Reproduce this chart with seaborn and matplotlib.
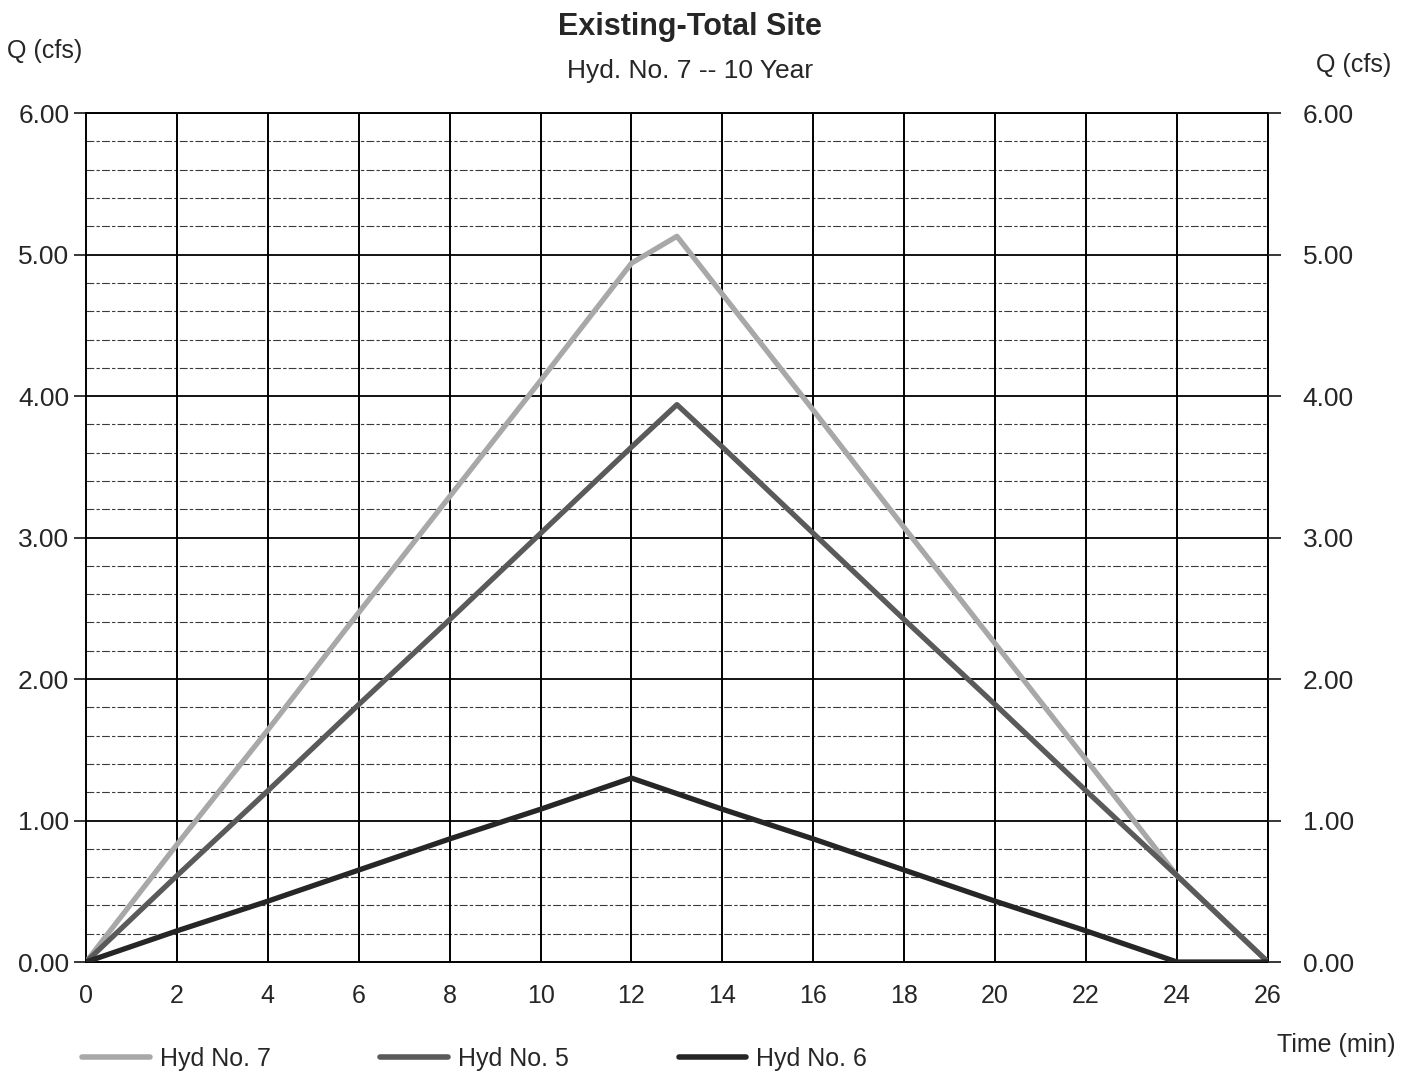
import numpy as np
import matplotlib
matplotlib.use("Agg")
import matplotlib.pyplot as plt
import seaborn as sns
import pandas as pd

# Hydrograph ordinates (time in min, Q in cfs)
time = [0, 2, 4, 6, 8, 10, 12, 13, 14, 16, 18, 20, 22, 24, 26]
hyd7 = [0.00, 0.83, 1.64, 2.47, 3.29, 4.11, 4.94, 5.13, 4.72, 3.90, 3.07, 2.25, 1.43, 0.61, 0.00]
hyd5 = [0.00, 0.61, 1.21, 1.82, 2.42, 3.03, 3.64, 3.94, 3.64, 3.03, 2.42, 1.82, 1.21, 0.61, 0.00]
hyd6 = [0.00, 0.22, 0.43, 0.65, 0.87, 1.08, 1.30, 1.19, 1.08, 0.87, 0.65, 0.43, 0.22, 0.00, 0.00]

series_names = ["Hyd No. 7", "Hyd No. 5", "Hyd No. 6"]
series_colors = ["#a8a8a8", "#5a5a5a", "#262626"]
y_ticks = [0, 1, 2, 3, 4, 5, 6]
x_ticks = list(range(0, 27, 2))

df = pd.DataFrame({
    "time": time * 3,
    "Q": hyd7 + hyd5 + hyd6,
    "series": [series_names[0]] * len(time) + [series_names[1]] * len(time) + [series_names[2]] * len(time),
})

sns.set_style("white")
plt.rcParams["font.family"] = ["Liberation Sans", "DejaVu Sans"]

fig = plt.figure(figsize=(14.14, 10.78), dpi=100)
ax = fig.add_axes([0.0608, 0.1076, 0.8359, 0.7874])

# grid: minor dashed every 0.2, major solid every 1.0, verticals every 2 min
for v in np.arange(0.2, 6.0, 0.2):
    if abs(v - round(v)) > 1e-6:
        ax.axhline(v, color="#3a3a3a", lw=0.8, ls=(0, (7, 2, 3, 2)), zorder=1)
for v in y_ticks[1:]:
    ax.axhline(v, color="black", lw=1.3, zorder=1)
for t in x_ticks[1:]:
    ax.axvline(t, color="black", lw=1.4, zorder=1)

sns.lineplot(data=df, x="time", y="Q", hue="series", palette=series_colors,
             hue_order=series_names, linewidth=3.8, ax=ax, zorder=3, legend=False)

ax.set_xlim(0, 26)
ax.set_ylim(0, 6)
ax.set_xticks(x_ticks)
ax.set_yticks(y_ticks)
ax.set_yticklabels([f"{v:.2f}" for v in y_ticks])
ax.set_xlabel("")
ax.set_ylabel("")
ax.tick_params(axis="y", direction="out", length=9, width=1.3, pad=3, labelsize=19, left=True)
ax.tick_params(axis="x", length=0, pad=16, labelsize=18)
for s in ax.spines.values():
    s.set_color("black")
    s.set_linewidth(1.4)

ax2 = ax.twinx()
ax2.set_ylim(0, 6)
ax2.set_yticks(y_ticks)
ax2.set_yticklabels([f"{v:.2f}" for v in y_ticks])
ax2.tick_params(axis="y", direction="out", length=9, width=1.3, pad=16, labelsize=19, right=True)
for s in ax2.spines.values():
    s.set_visible(False)

fig.text(0.488, 0.975, "Existing-Total Site", ha="center", va="center", fontsize=22, fontweight="bold")
fig.text(0.488, 0.934, "Hyd. No. 7 -- 10 Year", ha="center", va="center", fontsize=19)
fig.text(0.005, 0.953, "Q (cfs)", ha="left", va="center", fontsize=18)
fig.text(0.984, 0.940, "Q (cfs)", ha="right", va="center", fontsize=18)
fig.text(0.987, 0.031, "Time (min)", ha="right", va="center", fontsize=18)

handles = [plt.Line2D([], [], color=c, lw=4) for c in series_colors]
fig.legend(handles, series_names, loc="center left", bbox_to_anchor=(0.051, 0.018),
           ncol=3, frameon=False, fontsize=18, handlelength=2.7, handletextpad=0.4,
           columnspacing=4.4, borderaxespad=0)

fig.savefig("out.png", dpi=100)
